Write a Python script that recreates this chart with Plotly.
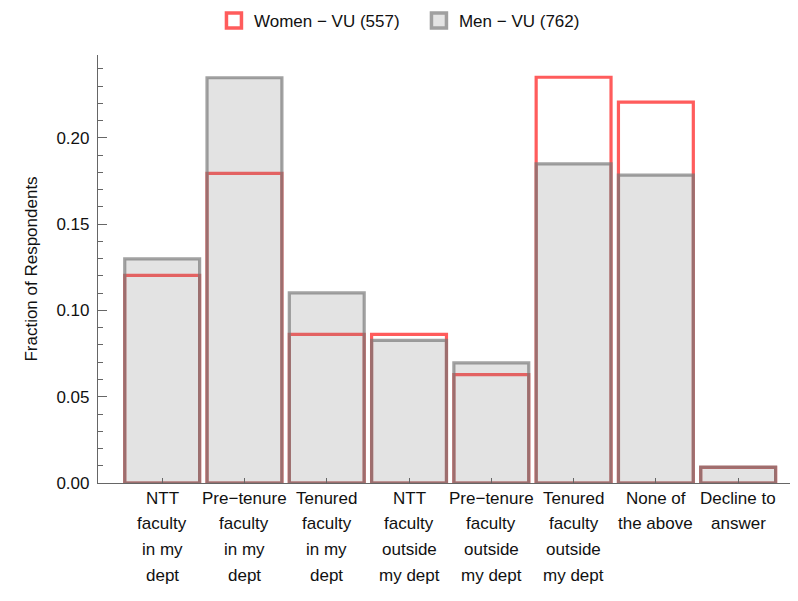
import plotly.graph_objects as go

categories = [
    "NTT faculty in my dept",
    "Pre−tenure faculty in my dept",
    "Tenured faculty in my dept",
    "NTT faculty outside my dept",
    "Pre−tenure faculty outside my dept",
    "Tenured faculty outside my dept",
    "None of the above",
    "Decline to answer",
]
label_lines = [
    ["NTT", "faculty", "in my", "dept"],
    ["Pre−tenure", "faculty", "in my", "dept"],
    ["Tenured", "faculty", "in my", "dept"],
    ["NTT", "faculty", "outside", "my dept"],
    ["Pre−tenure", "faculty", "outside", "my dept"],
    ["Tenured", "faculty", "outside", "my dept"],
    ["None of", "the above"],
    ["Decline to", "answer"],
]
women = [0.1203, 0.1795, 0.0862, 0.0862, 0.0628, 0.2352, 0.2208, 0.0090]
men = [0.1299, 0.2349, 0.1102, 0.0827, 0.0696, 0.1850, 0.1785, 0.0092]
women_name = "Women − VU (557)"
men_name = "Men − VU (762)"
y_tickvals = [0.0, 0.05, 0.10, 0.15, 0.20]
y_ticktext = ["0.00", "0.05", "0.10", "0.15", "0.20"]

FONT = "Liberation Sans, Arial, sans-serif"
RED = "#ff5c5c"
AXIS = "#666666"

x_idx = list(range(len(categories)))

fig = go.Figure()
fig.add_trace(go.Bar(
    x=x_idx, y=women, width=0.91, name=women_name, showlegend=False,
    marker=dict(color="rgba(255,255,255,0)", line=dict(color=RED, width=3.2)),
    cliponaxis=False, hoverinfo="y",
))
fig.add_trace(go.Bar(
    x=x_idx, y=men, width=0.91, name=men_name, showlegend=False,
    marker=dict(color="rgba(125,125,125,0.21)",
                line=dict(color="rgba(118,118,118,0.68)", width=3.2)),
    cliponaxis=False, hoverinfo="y",
))
# legend entries
fig.add_trace(go.Scatter(
    x=[None], y=[None], mode="markers", name=women_name,
    marker=dict(symbol="square", size=15, color="white", line=dict(color=RED, width=3.5)),
))
fig.add_trace(go.Scatter(
    x=[None], y=[None], mode="markers", name=men_name,
    marker=dict(symbol="square", size=15, color="#e4e4e4", line=dict(color="#a0a0a0", width=3.5)),
))

annotations = []
for i, lines in enumerate(label_lines):
    for k, line in enumerate(lines):
        annotations.append(dict(
            x=i, y=0, xref="x", yref="y", text=line, showarrow=False,
            yanchor="middle", xanchor="center", yshift=-(15 + 25.7 * k),
            font=dict(family=FONT, size=17, color="#111111"),
        ))

fig.update_layout(
    width=798, height=601,
    margin=dict(l=98, r=8, t=55, b=118, autoexpand=False),
    paper_bgcolor="white", plot_bgcolor="white",
    barmode="overlay",
    font=dict(family=FONT, size=17, color="#111111"),
    showlegend=True,
    legend=dict(orientation="h", x=0.525, xanchor="center", xref="container",
                y=0.995, yref="container", yanchor="top",
                font=dict(family=FONT, size=17, color="#111111"),
                itemwidth=30, traceorder="normal", entrywidth=160),
    annotations=annotations,
    xaxis=dict(
        range=[-0.78, 7.63], showgrid=False, zeroline=False, automargin=False,
        showline=True, linecolor=AXIS, linewidth=1.2,
        tickmode="array", tickvals=x_idx, ticktext=[""] * len(x_idx),
        ticks="inside", ticklen=5, tickcolor=AXIS, tickwidth=1,
        showticklabels=False,
    ),
    yaxis=dict(
        range=[0, 0.2481], showgrid=False, zeroline=False, automargin=False,
        showline=True, linecolor=AXIS, linewidth=1.2,
        tickmode="array", tickvals=y_tickvals, ticktext=y_ticktext,
        ticks="inside", ticklen=9, tickcolor=AXIS, tickwidth=1,
        ticklabelstandoff=4,
        minor=dict(dtick=0.01, ticks="inside", ticklen=4.5, tickcolor=AXIS, tickwidth=1),
        tickfont=dict(family=FONT, size=17, color="#111111"),
        title=dict(text="Fraction of Respondents", standoff=14,
                   font=dict(family=FONT, size=17, color="#111111")),
    ),
)

fig.write_html("out.html", config={"displayModeBar": False},
               post_script="document.body.style.margin='0';")
